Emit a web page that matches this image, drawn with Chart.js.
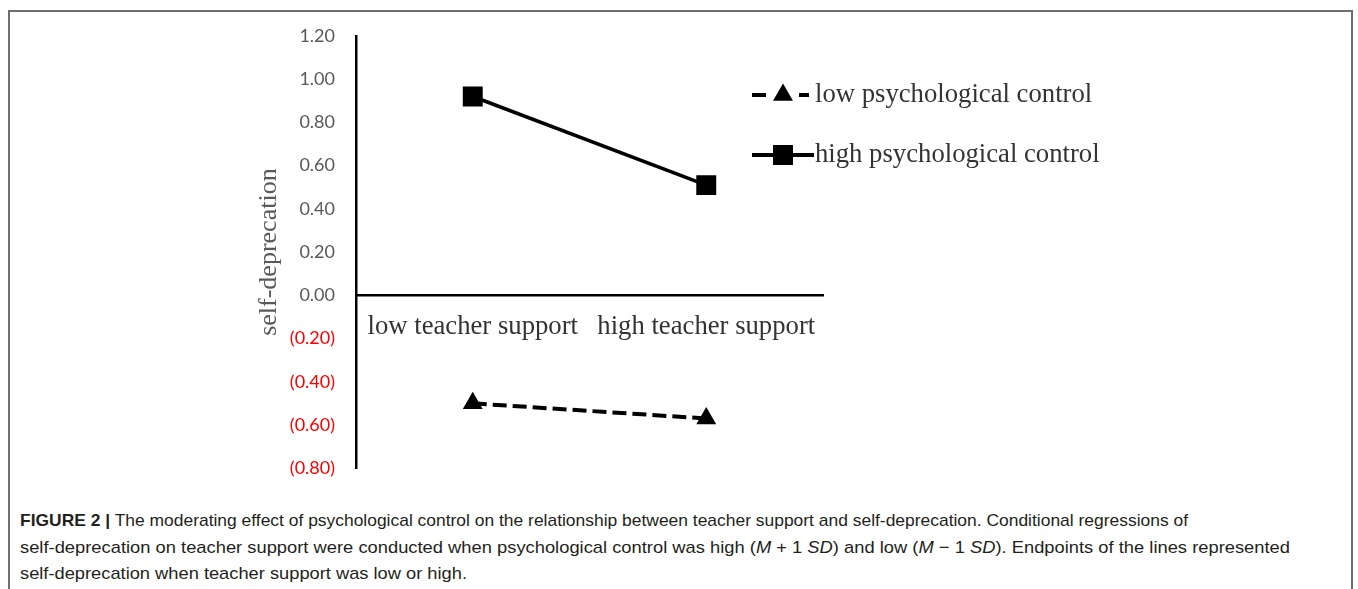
<!DOCTYPE html>
<html>
<head>
<meta charset="utf-8">
<script src="https://cdn.jsdelivr.net/npm/chart.js@4"></script>
<style>
  html, body { margin: 0; padding: 0; background: #fff; width: 1358px; height: 589px; overflow: hidden; }
  #frame { position: absolute; left: 8px; top: 10px; width: 1345px; height: 620px; border: 2px solid #6e6e6e; box-sizing: border-box; }
  #wrap { position: absolute; left: 0; top: 0; width: 1358px; height: 500px; }
  #caption { position: absolute; left: 20px; top: 508px; font-family: "Liberation Sans", Arial, sans-serif; font-size: 17px; line-height: 26.5px; color: #231f20; }
  #caption .ln { white-space: nowrap; transform-origin: 0 50%; display: block; width: max-content; }
</style>
</head>
<body>
<div id="frame"></div>
<div id="wrap"><canvas id="c" width="1358" height="500"></canvas></div>
<div id="caption">
  <div class="ln" data-w="1168"><b>FIGURE 2 |</b> The moderating effect of psychological control on the relationship between teacher support and self-deprecation. Conditional regressions of</div>
  <div class="ln" data-w="1270">self-deprecation on teacher support were conducted when psychological control was high (<i>M</i> + 1 <i>SD</i>) and low (<i>M</i> − 1 <i>SD</i>). Endpoints of the lines represented</div>
  <div class="ln" data-w="447">self-deprecation when teacher support was low or high.</div>
</div>
<script>
// ---- data ----
const categories = ["low teacher support", "high teacher support"];
const seriesNames = ["low psychological control", "high psychological control"];
const lowControl = [-0.50, -0.57];
const highControl = [0.92, 0.51];
const yTickMin = -0.8, yTickMax = 1.2, yTickStep = 0.2;
const yTitle = "self-deprecation";

const serif = "'Liberation Serif', 'Times New Roman', serif";

const legendPlugin = {
  id: 'customLegend',
  afterDraw(chart) {
    const ctx = chart.ctx;
    ctx.save();
    const mx = 783;
    // entry 1: low control (dashed, triangle)
    let y = 95;
    ctx.strokeStyle = '#000'; ctx.fillStyle = '#000'; ctx.lineWidth = 4;
    ctx.beginPath(); ctx.moveTo(752, y); ctx.lineTo(766, y); ctx.moveTo(799, y); ctx.lineTo(809, y); ctx.stroke();
    const r = 11.5;
    ctx.beginPath();
    ctx.moveTo(mx, y - r);
    ctx.lineTo(mx + r * Math.sqrt(3) / 2, y + r / 2);
    ctx.lineTo(mx - r * Math.sqrt(3) / 2, y + r / 2);
    ctx.closePath(); ctx.fill();
    // entry 2: high control (solid, square)
    let y2 = 155;
    ctx.beginPath(); ctx.moveTo(752, y2); ctx.lineTo(814, y2); ctx.stroke();
    ctx.fillRect(mx - 10, y2 - 10, 20, 20);
    ctx.font = "26.7px " + serif;
    ctx.fillStyle = '#333';
    ctx.textBaseline = 'middle';
    ctx.textAlign = 'left';
    ctx.fillText(seriesNames[0], 815, y);
    ctx.fillText(seriesNames[1], 815, y2);
    ctx.restore();
  }
};

new Chart(document.getElementById('c'), {
  type: 'line',
  data: {
    labels: categories,
    datasets: [
      {
        label: seriesNames[0], data: lowControl,
        borderColor: '#000', backgroundColor: '#000', borderWidth: 4,
        borderDash: [14, 6],
        pointStyle: 'triangle', pointRadius: 11.5, pointBorderWidth: 0,
        pointBackgroundColor: '#000'
      },
      {
        label: seriesNames[1], data: highControl,
        borderColor: '#000', backgroundColor: '#000', borderWidth: 3.5,
        pointStyle: 'rect', pointRadius: 14.1, pointBorderWidth: 0,
        pointBackgroundColor: '#000'
      }
    ]
  },
  options: {
    responsive: false,
    animation: false,
    layout: { padding: { left: 0, right: 535, top: 36, bottom: 12 } },
    plugins: { legend: { display: false }, tooltip: { enabled: false } },
    scales: {
      x: {
        type: 'category',
        offset: true,
        position: { y: 0 },
        grid: { display: false, drawTicks: false },
        border: { display: true, color: '#000', width: 2.5 },
        ticks: {
          autoSkip: false, maxRotation: 0, minRotation: 0, padding: 16,
          color: '#333', font: { family: serif, size: 26.7 }
        }
      },
      y: {
        min: yTickMin, max: yTickMax,
        afterFit(scale) { scale.width = 356; },
        grid: { display: false, drawTicks: false },
        border: { display: true, color: '#000', width: 2.5 },
        title: {
          display: true, text: yTitle, color: '#595959',
          font: { family: serif, size: 26 }, padding: { top: 254, bottom: 0 }
        },
        ticks: {
          stepSize: yTickStep, padding: 21,
          font: { family: "Lato, 'Open Sans', sans-serif", size: 18 },
          color: (c) => (c.tick && c.tick.value < -1e-9) ? '#ff0000' : '#595959',
          callback: (v) => v < -1e-9 ? '(' + Math.abs(v).toFixed(2) + ')' : Math.abs(v).toFixed(2)
        }
      }
    }
  },
  plugins: [legendPlugin]
});

// fit caption lines to reference widths
document.querySelectorAll('#caption .ln').forEach(el => {
  const target = parseFloat(el.dataset.w);
  const w = el.getBoundingClientRect().width;
  if (w > 0) el.style.transform = 'scaleX(' + (target / w) + ')';
});
</script>
</body>
</html>
